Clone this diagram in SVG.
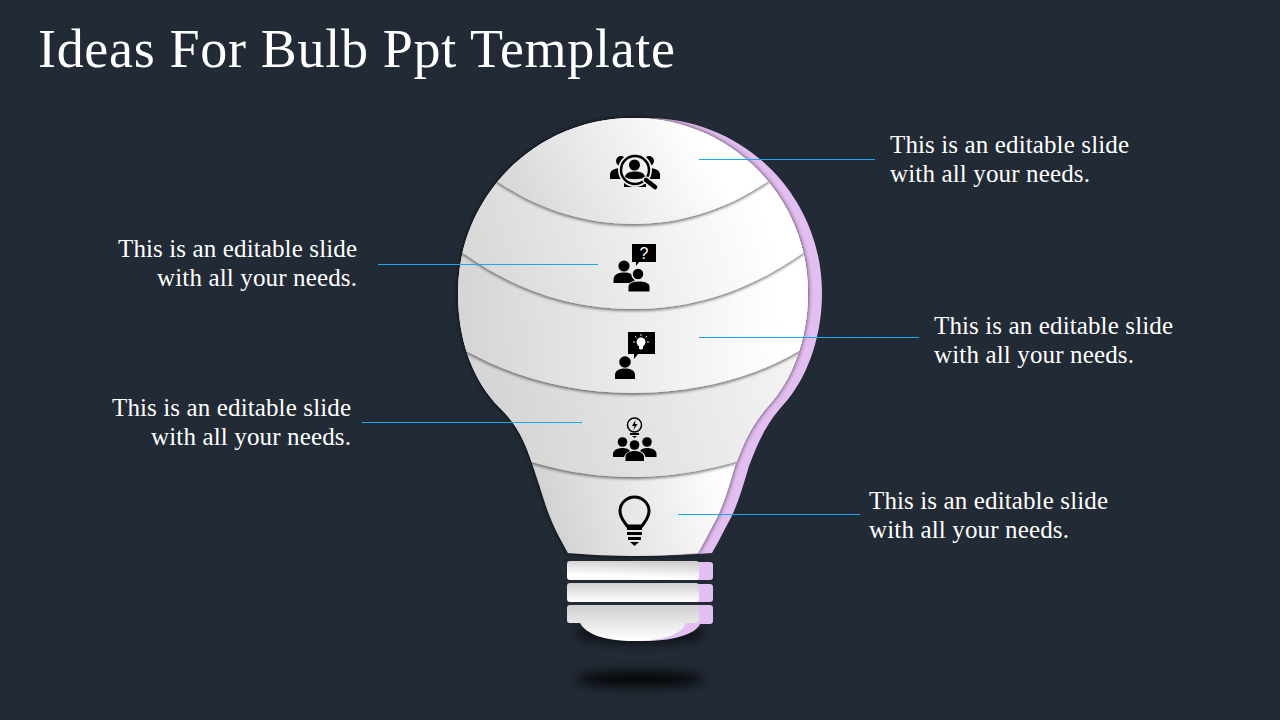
<svg xmlns="http://www.w3.org/2000/svg" width="1280" height="720" viewBox="0 0 1280 720">
<style>
.t{font-family:"Liberation Serif","DejaVu Serif",serif;fill:#fff}
.b{font-size:25px}
.e{text-anchor:end}
.l{stroke:#1aa7f0;stroke-width:1;fill:none}
.i{fill:#000}
</style>
<defs>
<path id="bulb" d="M633 118C730 118 808 196 808 293C808 342 790 382 770 404C752 424 744 442 735 466C728 490 722 510 713 525C708 535 703 544 698 553Q633 559 568 553C560 538 552 525 545 503C540 487 535 472 531 460C526 445 518 425 500 408C474 382 458 342 458 293C458 196 536 118 633 118Z"/>
<clipPath id="c"><use href="#bulb"/></clipPath>
<linearGradient id="g1" gradientUnits="userSpaceOnUse" x1="520" y1="210" x2="690" y2="120"><stop offset="0" stop-color="#d8d8d8"/><stop offset="1" stop-color="#fff"/></linearGradient>
<linearGradient id="g2" gradientUnits="userSpaceOnUse" x1="480" y1="290" x2="760" y2="200"><stop offset="0" stop-color="#d8d8d8"/><stop offset="1" stop-color="#fff"/></linearGradient>
<linearGradient id="g3" gradientUnits="userSpaceOnUse" x1="470" y1="340" x2="780" y2="320"><stop offset="0" stop-color="#d6d6d6"/><stop offset="1" stop-color="#fff"/></linearGradient>
<linearGradient id="g4" gradientUnits="userSpaceOnUse" x1="520" y1="450" x2="780" y2="380"><stop offset="0" stop-color="#d6d6d6"/><stop offset="1" stop-color="#f2f2f2"/></linearGradient>
<linearGradient id="g5" gradientUnits="userSpaceOnUse" x1="550" y1="530" x2="725" y2="480"><stop offset="0" stop-color="#d2d2d2"/><stop offset="1" stop-color="#fff"/></linearGradient>
<linearGradient id="r1" x1=".4" y1=".8" x2=".6" y2="0"><stop offset="0" stop-color="#fff"/><stop offset="1" stop-color="#cdcdcd"/></linearGradient>
<linearGradient id="r2" x1="0" y1="0" x2="0" y2="1"><stop offset="0" stop-color="#cfcfcf"/><stop offset="1" stop-color="#fff"/></linearGradient>
<linearGradient id="r3" x1="0" y1="0" x2="0" y2="1"><stop offset="0" stop-color="#cfcfcf"/><stop offset="1" stop-color="#fff"/></linearGradient>
<filter id="s" x="-10%" y="-10%" width="120%" height="125%"><feGaussianBlur in="SourceAlpha" stdDeviation="1.800"/><feOffset dy="2"/><feComponentTransfer><feFuncA type="linear" slope=".5"/></feComponentTransfer><feMerge><feMergeNode/><feMergeNode in="SourceGraphic"/></feMerge></filter>
<filter id="o" x="-10%" y="-10%" width="120%" height="120%"><feGaussianBlur in="SourceAlpha" stdDeviation="2.500"/><feComponentTransfer><feFuncA type="linear" slope=".8"/></feComponentTransfer><feMerge><feMergeNode/><feMergeNode in="SourceGraphic"/></feMerge></filter>
<filter id="b6" x="-30%" y="-200%" width="160%" height="500%"><feGaussianBlur stdDeviation="6"/></filter>
<g id="person"><circle cx="0" cy="-9" r="5.600"/><path d="M-10.500 8V5C-10.500 -1 -5 -2.500 0 -2.500S10.500 -1 10.500 5V8Z"/></g>
</defs>
<rect width="1280" height="720" fill="#222a35"/>
<text class="t" x="38" y="67" font-size="54" textLength="637">Ideas For Bulb Ppt Template</text>

<g id="shadows">
<ellipse cx="640" cy="679" rx="64" ry="7" fill="#000" opacity=".95" filter="url(#b6)"/>
<ellipse cx="640" cy="634" rx="66" ry="8" fill="#000" opacity=".75" filter="url(#b6)"/>
</g>

<g id="base">
<g fill="#e3bef0">
<rect x="685" y="562" width="28" height="18" rx="3"/>
<rect x="685" y="584" width="28" height="18" rx="3"/>
<rect x="685" y="605" width="28" height="19" rx="3"/>
<path d="M590 620H701C701 632 678 641 644 641C620 641 600 632 590 620Z"/>
</g>
<rect x="567" y="561" width="132" height="19" rx="3" fill="url(#r1)"/>
<rect x="567" y="583" width="132" height="19" rx="3" fill="url(#r2)"/>
<path d="M570 605H696Q699 605 699 608V620Q699 623 696 623H686C682 634 664 641 634 641C604 641 586 634 580 623H570Q567 623 567 620V608Q567 605 570 605Z" fill="url(#r3)"/>
</g>

<g id="bulb-back"><use href="#bulb" x="14" fill="#e3bef0"/></g>

<g id="band5" filter="url(#o)"><use href="#bulb" fill="url(#g5)"/></g>
<g clip-path="url(#c)">
<g id="band4" filter="url(#s)"><path d="M440 340H830V440L735 462C700 472 665 477 633 477C600 477 565 472 532 462L440 440Z" fill="url(#g4)"/></g>
<g id="band3" filter="url(#s)"><path d="M440 230H830V335L797 352C750 380 690 393 633 393C575 393 520 380 468 352L440 335Z" fill="url(#g3)"/></g>
<g id="band2" filter="url(#s)"><path d="M440 130H830V230L803 253C750 290 695 309 633 309C570 309 515 290 463 253L440 235Z" fill="url(#g2)"/></g>
<g id="band1" filter="url(#s)"><path d="M440 100H830V130L767 182C725 210 680 224 633 224C585 224 540 210 498 182L440 130Z" fill="url(#g1)"/></g>
</g>

<g id="icon1" class="i">
<circle cx="621" cy="161" r="5"/><circle cx="649" cy="161" r="5"/>
<path d="M610 179V175C610 170 615 168 621 168H632V179Z"/>
<path d="M660 179V175C660 170 655 168 649 168H638V179Z"/>
<path d="M624 187V178H646V187Z"/>
<circle cx="635" cy="170" r="17" fill="#f0f0f0"/>
<circle cx="635" cy="170" r="14" fill="#f0f0f0" stroke="#000" stroke-width="2.500"/>
<circle cx="634.500" cy="165" r="5.500"/>
<path d="M625 177C626 172 631 171.500 635 171.500S644 172 645 177C641 180 629 180 625 177Z"/>
<path d="M646 180L655 187" stroke="#f0f0f0" stroke-width="7" stroke-linecap="round"/>
<path d="M646 180L655 187" stroke="#000" stroke-width="4.500" stroke-linecap="round"/>
</g>
<g id="icon2" class="i">
<path d="M632 244H656V262H639L636 266V262H632Z"/>
<text x="644" y="259" font-family="Liberation Sans,sans-serif" font-size="16" text-anchor="middle" fill="#fff">?</text>
<use href="#person" x="624" y="275"/>
<circle cx="638" cy="274" r="6" fill="#000" stroke="#eee" stroke-width="1.500"/>
<path d="M628 292V287C628 283 633 281 639 281S650 283 650 287V292Z" stroke="#eee" stroke-width="1"/>
</g>
<g id="icon3" class="i">
<path d="M628 332H655V354H638L634 359V354H628Z"/>
<circle cx="641" cy="342" r="4.500" fill="#fff"/><path d="M639 346H643V349H639Z" fill="#fff"/>
<path d="M641 334V336M641 348V350M633 342H635M647 342H649M635 336L636.500 337.500M647 336L645.500 337.500" stroke="#ddd" stroke-width="1" fill="none"/>
<circle cx="625" cy="362" r="5.800"/>
<path d="M615 379V375C615 370 620 368.500 625 368.500S635 370 635 375V379Z"/>
</g>
<g id="icon4" class="i">
<circle cx="634.500" cy="425" r="7" fill="none" stroke="#000" stroke-width="1.500"/>
<path d="M635.500 420L632 426H634.500L633.500 430L637.500 424H635Z"/>
<path d="M630 433H639V435H630ZM632 436H637L634.500 438Z"/>
<circle cx="622.500" cy="442" r="4.800"/><circle cx="647" cy="442" r="4.800"/><circle cx="634.500" cy="445" r="4.800"/>
<path d="M613 457V454C613 450 618 448 622.500 448C626 448 629 449 630 451C627 452 625 454 624 457Z"/>
<path d="M656.500 457V454C656.500 450 652 448 647 448C644 448 641 449 640 451C643 452 645 454 645.500 457Z"/>
<path d="M625.500 461V457C625.500 453 630 451 634.500 451S644 453 644 457V461Z"/>
</g>
<g id="icon5">
<path d="M627 526C624 521 620 518 620 511C620 503 627 497 634.500 497S649 503 649 511C649 518 645 521 642 526Z" fill="none" stroke="#000" stroke-width="3"/>
<path d="M627 526H642V530H627ZM627 532H642V535H627ZM628 537H641V540H628ZM630 542H639L634.500 546Z" fill="#000"/>
</g>

<g id="connectors" class="l">
<path d="M699 159.500H875"/>
<path d="M378 264.500H598"/>
<path d="M699 337.500H919"/>
<path d="M362 422.500H582"/>
<path d="M678 514.500H860"/>
</g>

<g id="labels">
<text class="t b" x="890" y="152.500" textLength="239">This is an editable slide</text>
<text class="t b" x="890" y="181.500" textLength="200">with all your needs.</text>
<text class="t b e" x="357" y="256.500" textLength="239">This is an editable slide</text>
<text class="t b e" x="357" y="285.500" textLength="200">with all your needs.</text>
<text class="t b" x="934" y="333.500" textLength="239">This is an editable slide</text>
<text class="t b" x="934" y="362.500" textLength="200">with all your needs.</text>
<text class="t b e" x="351" y="415.500" textLength="239">This is an editable slide</text>
<text class="t b e" x="351" y="444.500" textLength="200">with all your needs.</text>
<text class="t b" x="869" y="508.500" textLength="239">This is an editable slide</text>
<text class="t b" x="869" y="537.500" textLength="200">with all your needs.</text>
</g>
</svg>
